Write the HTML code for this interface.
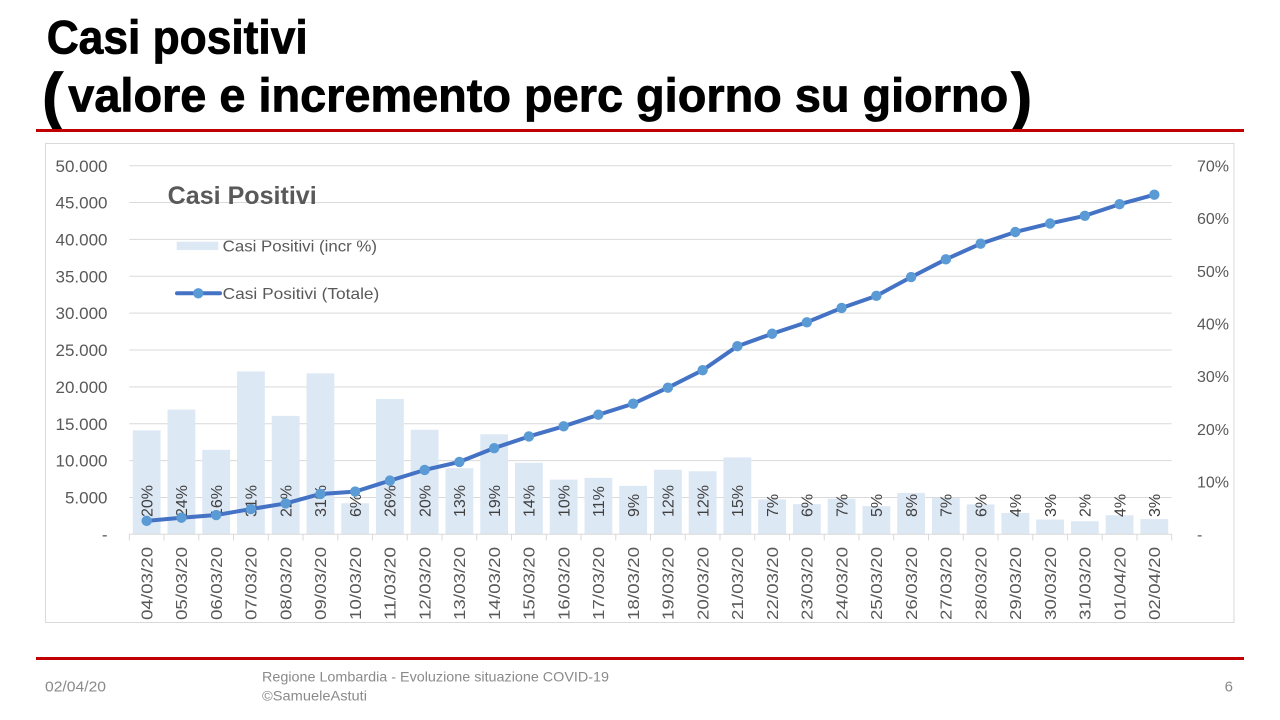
<!DOCTYPE html>
<html>
<head>
<meta charset="utf-8">
<style>
html,body{margin:0;padding:0;background:#fff;}
svg{display:block;}
text{font-family:"Liberation Sans",Arial,sans-serif;}
</style>
</head>
<body>
<svg width="1280" height="720" viewBox="0 0 1280 720" xmlns="http://www.w3.org/2000/svg">
<rect width="1280" height="720" fill="#fff"/>
<!-- Title -->
<g stroke="#000" stroke-width="0.8" fill="#000" font-weight="bold">
<text x="46.7" y="53.3" font-size="47" textLength="261" lengthAdjust="spacingAndGlyphs">Casi positivi</text>
<text x="42" y="118" font-size="64">(</text>
<text x="68.3" y="111.7" font-size="47" textLength="940" lengthAdjust="spacingAndGlyphs">valore e incremento perc giorno su giorno</text>
<text x="1011" y="118" font-size="64">)</text>
</g>
<rect x="36" y="129" width="1208" height="3" fill="#C00000"/>

<!-- Chart frame -->
<rect x="45.5" y="143.5" width="1188.5" height="479" fill="#fff" stroke="#d9d9d9" stroke-width="1"/>

<!-- gridlines -->
<g stroke="#d9d9d9" stroke-width="1">
<line x1="129.3" x2="1171.7" y1="497.44" y2="497.44"/>
<line x1="129.3" x2="1171.7" y1="460.58" y2="460.58"/>
<line x1="129.3" x2="1171.7" y1="423.72" y2="423.72"/>
<line x1="129.3" x2="1171.7" y1="386.86" y2="386.86"/>
<line x1="129.3" x2="1171.7" y1="350.0" y2="350.0"/>
<line x1="129.3" x2="1171.7" y1="313.14" y2="313.14"/>
<line x1="129.3" x2="1171.7" y1="276.28" y2="276.28"/>
<line x1="129.3" x2="1171.7" y1="239.42" y2="239.42"/>
<line x1="129.3" x2="1171.7" y1="202.56" y2="202.56"/>
<line x1="129.3" x2="1171.7" y1="165.7" y2="165.7"/>
</g>

<!-- bars -->
<g fill="#DDE8F5">
<rect x="132.77" y="430.35" width="27.8" height="103.95"/>
<rect x="167.52" y="409.60" width="27.8" height="124.70"/>
<rect x="202.27" y="449.83" width="27.8" height="84.47"/>
<rect x="237.02" y="371.42" width="27.8" height="162.88"/>
<rect x="271.76" y="415.87" width="27.8" height="118.43"/>
<rect x="306.51" y="373.37" width="27.8" height="160.93"/>
<rect x="341.26" y="503.28" width="27.8" height="31.02"/>
<rect x="376.00" y="398.91" width="27.8" height="135.39"/>
<rect x="410.75" y="429.77" width="27.8" height="104.53"/>
<rect x="445.50" y="468.21" width="27.8" height="66.09"/>
<rect x="480.25" y="434.30" width="27.8" height="100.00"/>
<rect x="514.99" y="462.79" width="27.8" height="71.51"/>
<rect x="549.74" y="479.64" width="27.8" height="54.66"/>
<rect x="584.49" y="477.85" width="27.8" height="56.45"/>
<rect x="619.23" y="485.85" width="27.8" height="48.45"/>
<rect x="653.98" y="469.74" width="27.8" height="64.56"/>
<rect x="688.73" y="471.27" width="27.8" height="63.03"/>
<rect x="723.47" y="457.42" width="27.8" height="76.88"/>
<rect x="758.22" y="499.39" width="27.8" height="34.91"/>
<rect x="792.97" y="504.18" width="27.8" height="30.12"/>
<rect x="827.72" y="498.75" width="27.8" height="35.55"/>
<rect x="862.46" y="506.13" width="27.8" height="28.17"/>
<rect x="897.21" y="492.91" width="27.8" height="41.39"/>
<rect x="931.96" y="497.96" width="27.8" height="36.34"/>
<rect x="966.70" y="504.39" width="27.8" height="29.91"/>
<rect x="1001.45" y="513.03" width="27.8" height="21.27"/>
<rect x="1036.20" y="519.50" width="27.8" height="14.80"/>
<rect x="1070.95" y="521.24" width="27.8" height="13.06"/>
<rect x="1105.69" y="515.24" width="27.8" height="19.06"/>
<rect x="1140.44" y="519.08" width="27.8" height="15.22"/>
</g>

<!-- axis line and ticks -->
<g stroke="#d9d9d9" stroke-width="1">
<line x1="129.3" x2="1171.7" y1="534.3" y2="534.3"/>
<line x1="129.30" x2="129.30" y1="534.3" y2="540.5"/>
<line x1="164.05" x2="164.05" y1="534.3" y2="540.5"/>
<line x1="198.79" x2="198.79" y1="534.3" y2="540.5"/>
<line x1="233.54" x2="233.54" y1="534.3" y2="540.5"/>
<line x1="268.29" x2="268.29" y1="534.3" y2="540.5"/>
<line x1="303.04" x2="303.04" y1="534.3" y2="540.5"/>
<line x1="337.78" x2="337.78" y1="534.3" y2="540.5"/>
<line x1="372.53" x2="372.53" y1="534.3" y2="540.5"/>
<line x1="407.28" x2="407.28" y1="534.3" y2="540.5"/>
<line x1="442.02" x2="442.02" y1="534.3" y2="540.5"/>
<line x1="476.77" x2="476.77" y1="534.3" y2="540.5"/>
<line x1="511.52" x2="511.52" y1="534.3" y2="540.5"/>
<line x1="546.26" x2="546.26" y1="534.3" y2="540.5"/>
<line x1="581.01" x2="581.01" y1="534.3" y2="540.5"/>
<line x1="615.76" x2="615.76" y1="534.3" y2="540.5"/>
<line x1="650.51" x2="650.51" y1="534.3" y2="540.5"/>
<line x1="685.25" x2="685.25" y1="534.3" y2="540.5"/>
<line x1="720.00" x2="720.00" y1="534.3" y2="540.5"/>
<line x1="754.75" x2="754.75" y1="534.3" y2="540.5"/>
<line x1="789.49" x2="789.49" y1="534.3" y2="540.5"/>
<line x1="824.24" x2="824.24" y1="534.3" y2="540.5"/>
<line x1="858.99" x2="858.99" y1="534.3" y2="540.5"/>
<line x1="893.73" x2="893.73" y1="534.3" y2="540.5"/>
<line x1="928.48" x2="928.48" y1="534.3" y2="540.5"/>
<line x1="963.23" x2="963.23" y1="534.3" y2="540.5"/>
<line x1="997.98" x2="997.98" y1="534.3" y2="540.5"/>
<line x1="1032.72" x2="1032.72" y1="534.3" y2="540.5"/>
<line x1="1067.47" x2="1067.47" y1="534.3" y2="540.5"/>
<line x1="1102.22" x2="1102.22" y1="534.3" y2="540.5"/>
<line x1="1136.96" x2="1136.96" y1="534.3" y2="540.5"/>
<line x1="1171.71" x2="1171.71" y1="534.3" y2="540.5"/>
</g>

<!-- percent labels -->
<g font-size="16" fill="#404040" text-anchor="start">
<text transform="translate(146.67,517) rotate(-90)" dy="0.36em">20%</text>
<text transform="translate(181.42,517) rotate(-90)" dy="0.36em">24%</text>
<text transform="translate(216.17,517) rotate(-90)" dy="0.36em">16%</text>
<text transform="translate(250.92,517) rotate(-90)" dy="0.36em">31%</text>
<text transform="translate(285.66,517) rotate(-90)" dy="0.36em">22%</text>
<text transform="translate(320.41,517) rotate(-90)" dy="0.36em">31%</text>
<text transform="translate(355.16,517) rotate(-90)" dy="0.36em">6%</text>
<text transform="translate(389.90,517) rotate(-90)" dy="0.36em">26%</text>
<text transform="translate(424.65,517) rotate(-90)" dy="0.36em">20%</text>
<text transform="translate(459.40,517) rotate(-90)" dy="0.36em">13%</text>
<text transform="translate(494.15,517) rotate(-90)" dy="0.36em">19%</text>
<text transform="translate(528.89,517) rotate(-90)" dy="0.36em">14%</text>
<text transform="translate(563.64,517) rotate(-90)" dy="0.36em">10%</text>
<text transform="translate(598.39,517) rotate(-90)" dy="0.36em">11%</text>
<text transform="translate(633.13,517) rotate(-90)" dy="0.36em">9%</text>
<text transform="translate(667.88,517) rotate(-90)" dy="0.36em">12%</text>
<text transform="translate(702.63,517) rotate(-90)" dy="0.36em">12%</text>
<text transform="translate(737.37,517) rotate(-90)" dy="0.36em">15%</text>
<text transform="translate(772.12,517) rotate(-90)" dy="0.36em">7%</text>
<text transform="translate(806.87,517) rotate(-90)" dy="0.36em">6%</text>
<text transform="translate(841.62,517) rotate(-90)" dy="0.36em">7%</text>
<text transform="translate(876.36,517) rotate(-90)" dy="0.36em">5%</text>
<text transform="translate(911.11,517) rotate(-90)" dy="0.36em">8%</text>
<text transform="translate(945.86,517) rotate(-90)" dy="0.36em">7%</text>
<text transform="translate(980.60,517) rotate(-90)" dy="0.36em">6%</text>
<text transform="translate(1015.35,517) rotate(-90)" dy="0.36em">4%</text>
<text transform="translate(1050.10,517) rotate(-90)" dy="0.36em">3%</text>
<text transform="translate(1084.85,517) rotate(-90)" dy="0.36em">2%</text>
<text transform="translate(1119.59,517) rotate(-90)" dy="0.36em">4%</text>
<text transform="translate(1154.34,517) rotate(-90)" dy="0.36em">3%</text>
</g>

<!-- line series -->
<polyline fill="none" stroke="#4472C4" stroke-width="4" stroke-linejoin="round" stroke-linecap="round" points="146.67,520.88 181.42,517.71 216.17,515.04 250.92,509.09 285.66,503.42 320.41,493.98 355.16,491.61 389.90,480.63 424.65,469.98 459.40,461.91 494.15,448.16 528.89,436.46 563.64,426.31 598.39,414.73 633.13,403.72 667.88,387.72 702.63,370.17 737.37,346.20 772.12,333.74 806.87,322.27 841.62,307.96 876.36,295.85 911.11,277.10 945.86,259.34 980.60,243.73 1015.35,232.00 1050.10,223.49 1084.85,215.77 1119.59,204.23 1154.34,194.71"/>
<g fill="#5B9BD5">
<circle cx="146.67" cy="520.88" r="5.2"/>
<circle cx="181.42" cy="517.71" r="5.2"/>
<circle cx="216.17" cy="515.04" r="5.2"/>
<circle cx="250.92" cy="509.09" r="5.2"/>
<circle cx="285.66" cy="503.42" r="5.2"/>
<circle cx="320.41" cy="493.98" r="5.2"/>
<circle cx="355.16" cy="491.61" r="5.2"/>
<circle cx="389.90" cy="480.63" r="5.2"/>
<circle cx="424.65" cy="469.98" r="5.2"/>
<circle cx="459.40" cy="461.91" r="5.2"/>
<circle cx="494.15" cy="448.16" r="5.2"/>
<circle cx="528.89" cy="436.46" r="5.2"/>
<circle cx="563.64" cy="426.31" r="5.2"/>
<circle cx="598.39" cy="414.73" r="5.2"/>
<circle cx="633.13" cy="403.72" r="5.2"/>
<circle cx="667.88" cy="387.72" r="5.2"/>
<circle cx="702.63" cy="370.17" r="5.2"/>
<circle cx="737.37" cy="346.20" r="5.2"/>
<circle cx="772.12" cy="333.74" r="5.2"/>
<circle cx="806.87" cy="322.27" r="5.2"/>
<circle cx="841.62" cy="307.96" r="5.2"/>
<circle cx="876.36" cy="295.85" r="5.2"/>
<circle cx="911.11" cy="277.10" r="5.2"/>
<circle cx="945.86" cy="259.34" r="5.2"/>
<circle cx="980.60" cy="243.73" r="5.2"/>
<circle cx="1015.35" cy="232.00" r="5.2"/>
<circle cx="1050.10" cy="223.49" r="5.2"/>
<circle cx="1084.85" cy="215.77" r="5.2"/>
<circle cx="1119.59" cy="204.23" r="5.2"/>
<circle cx="1154.34" cy="194.71" r="5.2"/>
</g>

<!-- left axis labels -->
<g font-size="17" fill="#595959" text-anchor="end">
<text x="107.5" y="540.3">-</text>
<text x="107.5" y="503.5">5.000</text>
<text x="107.5" y="466.6">10.000</text>
<text x="107.5" y="429.8">15.000</text>
<text x="107.5" y="392.9">20.000</text>
<text x="107.5" y="356.0">25.000</text>
<text x="107.5" y="319.2">30.000</text>
<text x="107.5" y="282.3">35.000</text>
<text x="107.5" y="245.5">40.000</text>
<text x="107.5" y="208.6">45.000</text>
<text x="107.5" y="171.8">50.000</text>
</g>

<!-- right axis labels -->
<g font-size="16" fill="#595959" text-anchor="start">
<text x="1197" y="540.1">-</text>
<text x="1197" y="487.4">10%</text>
<text x="1197" y="434.8">20%</text>
<text x="1197" y="382.1">30%</text>
<text x="1197" y="329.5">40%</text>
<text x="1197" y="276.8">50%</text>
<text x="1197" y="224.1">60%</text>
<text x="1197" y="171.5">70%</text>
</g>

<!-- x labels -->
<g font-size="16" fill="#595959" text-anchor="end">
<text transform="translate(146.67,547) rotate(-90)" dy="0.36em" textLength="73" lengthAdjust="spacingAndGlyphs">04/03/20</text>
<text transform="translate(181.42,547) rotate(-90)" dy="0.36em" textLength="73" lengthAdjust="spacingAndGlyphs">05/03/20</text>
<text transform="translate(216.17,547) rotate(-90)" dy="0.36em" textLength="73" lengthAdjust="spacingAndGlyphs">06/03/20</text>
<text transform="translate(250.92,547) rotate(-90)" dy="0.36em" textLength="73" lengthAdjust="spacingAndGlyphs">07/03/20</text>
<text transform="translate(285.66,547) rotate(-90)" dy="0.36em" textLength="73" lengthAdjust="spacingAndGlyphs">08/03/20</text>
<text transform="translate(320.41,547) rotate(-90)" dy="0.36em" textLength="73" lengthAdjust="spacingAndGlyphs">09/03/20</text>
<text transform="translate(355.16,547) rotate(-90)" dy="0.36em" textLength="73" lengthAdjust="spacingAndGlyphs">10/03/20</text>
<text transform="translate(389.90,547) rotate(-90)" dy="0.36em" textLength="73" lengthAdjust="spacingAndGlyphs">11/03/20</text>
<text transform="translate(424.65,547) rotate(-90)" dy="0.36em" textLength="73" lengthAdjust="spacingAndGlyphs">12/03/20</text>
<text transform="translate(459.40,547) rotate(-90)" dy="0.36em" textLength="73" lengthAdjust="spacingAndGlyphs">13/03/20</text>
<text transform="translate(494.15,547) rotate(-90)" dy="0.36em" textLength="73" lengthAdjust="spacingAndGlyphs">14/03/20</text>
<text transform="translate(528.89,547) rotate(-90)" dy="0.36em" textLength="73" lengthAdjust="spacingAndGlyphs">15/03/20</text>
<text transform="translate(563.64,547) rotate(-90)" dy="0.36em" textLength="73" lengthAdjust="spacingAndGlyphs">16/03/20</text>
<text transform="translate(598.39,547) rotate(-90)" dy="0.36em" textLength="73" lengthAdjust="spacingAndGlyphs">17/03/20</text>
<text transform="translate(633.13,547) rotate(-90)" dy="0.36em" textLength="73" lengthAdjust="spacingAndGlyphs">18/03/20</text>
<text transform="translate(667.88,547) rotate(-90)" dy="0.36em" textLength="73" lengthAdjust="spacingAndGlyphs">19/03/20</text>
<text transform="translate(702.63,547) rotate(-90)" dy="0.36em" textLength="73" lengthAdjust="spacingAndGlyphs">20/03/20</text>
<text transform="translate(737.37,547) rotate(-90)" dy="0.36em" textLength="73" lengthAdjust="spacingAndGlyphs">21/03/20</text>
<text transform="translate(772.12,547) rotate(-90)" dy="0.36em" textLength="73" lengthAdjust="spacingAndGlyphs">22/03/20</text>
<text transform="translate(806.87,547) rotate(-90)" dy="0.36em" textLength="73" lengthAdjust="spacingAndGlyphs">23/03/20</text>
<text transform="translate(841.62,547) rotate(-90)" dy="0.36em" textLength="73" lengthAdjust="spacingAndGlyphs">24/03/20</text>
<text transform="translate(876.36,547) rotate(-90)" dy="0.36em" textLength="73" lengthAdjust="spacingAndGlyphs">25/03/20</text>
<text transform="translate(911.11,547) rotate(-90)" dy="0.36em" textLength="73" lengthAdjust="spacingAndGlyphs">26/03/20</text>
<text transform="translate(945.86,547) rotate(-90)" dy="0.36em" textLength="73" lengthAdjust="spacingAndGlyphs">27/03/20</text>
<text transform="translate(980.60,547) rotate(-90)" dy="0.36em" textLength="73" lengthAdjust="spacingAndGlyphs">28/03/20</text>
<text transform="translate(1015.35,547) rotate(-90)" dy="0.36em" textLength="73" lengthAdjust="spacingAndGlyphs">29/03/20</text>
<text transform="translate(1050.10,547) rotate(-90)" dy="0.36em" textLength="73" lengthAdjust="spacingAndGlyphs">30/03/20</text>
<text transform="translate(1084.85,547) rotate(-90)" dy="0.36em" textLength="73" lengthAdjust="spacingAndGlyphs">31/03/20</text>
<text transform="translate(1119.59,547) rotate(-90)" dy="0.36em" textLength="73" lengthAdjust="spacingAndGlyphs">01/04/20</text>
<text transform="translate(1154.34,547) rotate(-90)" dy="0.36em" textLength="73" lengthAdjust="spacingAndGlyphs">02/04/20</text>
</g>

<!-- chart title and legend -->
<text x="167.7" y="204" font-size="25" font-weight="bold" fill="#595959" textLength="149" lengthAdjust="spacingAndGlyphs">Casi Positivi</text>
<rect x="176.7" y="241.7" width="41.6" height="8.4" fill="#DDE8F5"/>
<text x="222.7" y="251.7" font-size="16" fill="#595959" textLength="154.3" lengthAdjust="spacingAndGlyphs">Casi Positivi (incr %)</text>
<line x1="177" x2="220" y1="293.3" y2="293.3" stroke="#4472C4" stroke-width="4" stroke-linecap="round"/>
<circle cx="198.3" cy="293.3" r="5.2" fill="#5B9BD5"/>
<text x="222.7" y="299" font-size="16" fill="#595959" textLength="156.6" lengthAdjust="spacingAndGlyphs">Casi Positivi (Totale)</text>

<!-- footer -->
<rect x="36" y="657" width="1208" height="3" fill="#C00000"/>
<text x="45" y="691.7" font-size="15" fill="#8a8a8a" textLength="61" lengthAdjust="spacingAndGlyphs">02/04/20</text>
<text x="262" y="681.7" font-size="14" fill="#8a8a8a" textLength="347" lengthAdjust="spacingAndGlyphs">Regione Lombardia - Evoluzione situazione COVID-19</text>
<text x="262" y="700.7" font-size="14" fill="#8a8a8a" textLength="105" lengthAdjust="spacingAndGlyphs">©SamueleAstuti</text>
<text x="1233" y="691.7" font-size="15" fill="#8a8a8a" text-anchor="end">6</text>
</svg>
</body>
</html>
